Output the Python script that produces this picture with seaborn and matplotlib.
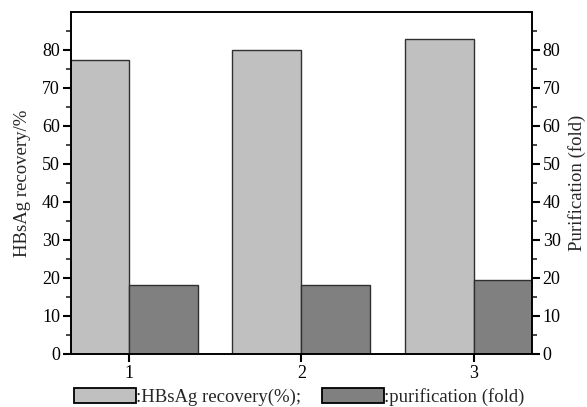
import matplotlib
matplotlib.use("Agg")
import matplotlib.pyplot as plt
import seaborn as sns
import pandas as pd
from matplotlib.ticker import FixedLocator

categories = ["1", "2", "3"]
recovery = [77.3, 80.0, 83.0]
purification = [18.0, 18.0, 19.3]
series_names = [":HBsAg recovery(%);", ":purification (fold)"]
colors = ["#c0c0c0", "#808080"]

df = pd.DataFrame({
    "cat": categories * 2,
    "value": recovery + purification,
    "series": [series_names[0]] * 3 + [series_names[1]] * 3,
})

sns.set_theme(style="ticks")
plt.rcParams["font.family"] = ["Liberation Serif", "DejaVu Serif"]
plt.rcParams["font.size"] = 13

fig = plt.figure(figsize=(5.87, 4.07), dpi=100)
ax = fig.add_axes([0.121, 0.131, 0.7845, 0.8395])

sns.barplot(data=df, x="cat", y="value", hue="series", palette=colors,
            width=0.8, edgecolor="#303030", linewidth=1.0, ax=ax,
            errorbar=None, saturation=1)

minor_ticks = [5, 15, 25, 35, 45, 55, 65, 75, 85]
major_ticks = list(range(0, 81, 10))

ax.set_xlim(-0.333, 2.333)
ax.set_ylim(0, 90)
ax.set_yticks(major_ticks)
ax.yaxis.set_minor_locator(FixedLocator(minor_ticks))
ax.set_xlabel("")
ax.set_ylabel("HBsAg recovery/%", fontsize=13.5, labelpad=8)

for sp in ["left", "bottom", "top", "right"]:
    ax.spines[sp].set_color("black")
    ax.spines[sp].set_linewidth(1.2)

ax.tick_params(axis="both", which="major", direction="out", length=6, width=1.5,
               labelsize=13, pad=2, colors="black")
ax.tick_params(axis="y", which="minor", direction="out", length=3.5, width=1.2)
ax.tick_params(axis="x", which="minor", bottom=False)

ax2 = ax.twinx()
ax2.set_ylim(0, 90)
ax2.set_yticks(major_ticks)
ax2.yaxis.set_minor_locator(FixedLocator(minor_ticks))
ax2.set_ylabel("Purification (fold)", fontsize=13.5, labelpad=5)
ax2.tick_params(axis="y", which="major", direction="out", length=6, width=1.5,
                labelsize=13, pad=2, colors="black")
ax2.tick_params(axis="y", which="minor", direction="out", length=3.5, width=1.2)
for sp in ["left", "bottom", "top", "right"]:
    ax2.spines[sp].set_color("black")
    ax2.spines[sp].set_linewidth(1.2)

handles, labels = ax.get_legend_handles_labels()
if ax.get_legend() is not None:
    ax.get_legend().remove()
for h in handles:
    h.set_edgecolor("black")
    h.set_linewidth(1.3)
fig.legend(handles, labels, loc="center", bbox_to_anchor=(0.51, 0.025), ncol=2,
           frameon=False, fontsize=13.5, handlelength=3.3, handleheight=0.85,
           handletextpad=0.0, columnspacing=1.1, borderaxespad=0, borderpad=0)

fig.savefig("out.png", dpi=100)
